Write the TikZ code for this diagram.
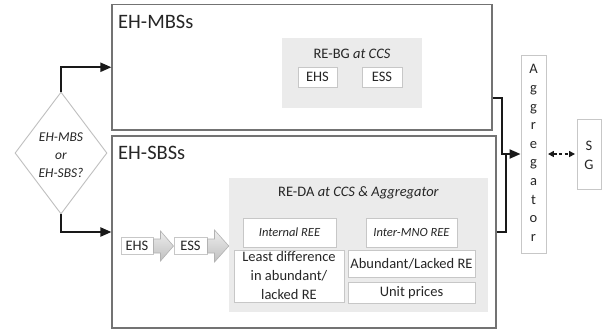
\documentclass[tikz,border=0pt]{standalone}
\usepackage{fontspec}
\setmainfont{Carlito}
\usetikzlibrary{shapes.geometric,arrows.meta,calc,shadows}
\begin{document}
\begin{tikzpicture}[x=1pt,y=-1pt,
  outerbox/.style={draw=black!55, line width=1.1pt, fill=white, inner sep=0pt,
    drop shadow={shadow xshift=1pt,shadow yshift=-1pt,fill=black!35,opacity=0.5}},
  grayblock/.style={fill=black!8, draw=none, inner sep=0pt},
  wbox/.style={draw=black!22, line width=1pt, fill=white, inner sep=0pt},
  conn/.style={line width=2pt, draw=black!90},
  tipa/.style={-{Triangle[length=11pt,width=9pt]}},
  lbl/.style={font=\fontsize{14.5}{19}\selectfont, text=black!85, align=center, inner sep=0pt},
  smalllbl/.style={font=\fontsize{12.5}{15}\selectfont\itshape, text=black!85, align=center, inner sep=0pt},
  titlelbl/.style={font=\fontsize{20.5}{23}\selectfont, text=black!85, anchor=west, inner sep=0pt},
  blockarrow/.style={top color=black!7, bottom color=black!25, draw=black!30, line width=0.6pt}
]
\useasboundingbox[fill=white] (0,0) rectangle (612,333);

% outer boxes
\node[outerbox, minimum width=380pt, minimum height=125.5pt] (mbs) at (302,67.25) {};
\node[outerbox, minimum width=384pt, minimum height=192pt] (sbs) at (304,232) {};
\node[titlelbl] (mbst) at (118,22) {EH-MBSs};
\node[titlelbl] (sbst) at (118,153) {EH-SBSs};

% decision diamond
\node[diamond, draw=black!25, line width=0.9pt, fill=white, minimum width=92pt, minimum height=122pt, inner sep=0pt] (dia) at (61,153) {};
\node[font=\fontsize{13.5}{18}\selectfont\itshape, text=black!85, align=center, inner sep=0pt] (diat) at (61,155) {EH-MBS\\or\\EH-SBS?};

\draw[conn,tipa] (dia.north) |- (mbs.west);
\draw[conn,tipa] (dia.south) |- (sbs.west);

% RE-BG block
\node[grayblock, minimum width=140pt, minimum height=70pt] (rebg) at (352,73) {};
\node[lbl] (rebgt) at (352,54) {RE-BG \textit{at CCS}};
\node[wbox, lbl, minimum width=39pt, minimum height=20pt] (ehs1) at (317.5,77) {EHS};
\node[wbox, lbl, minimum width=40pt, minimum height=20pt] (ess1) at (382,77) {ESS};

% RE-DA block
\node[grayblock, minimum width=259pt, minimum height=134pt] (reda) at (358.5,245) {};
\node[lbl] (redat) at (358.5,193) {RE-DA \textit{at CCS \& Aggregator}};
\node[wbox, smalllbl, minimum width=93pt, minimum height=29pt] (intree) at (289.5,232.5) {Internal REE};
\node[wbox, smalllbl, minimum width=91pt, minimum height=29pt] (interree) at (411.5,232.5) {Inter-MNO REE};
\node[wbox, lbl, minimum width=110pt, minimum height=52pt] (least) at (289,276) {Least difference\\in abundant/\\lacked RE};
\node[wbox, lbl, minimum width=127pt, minimum height=27pt] (abund) at (411.5,263.5) {Abundant/Lacked RE};
\node[wbox, lbl, minimum width=127pt, minimum height=21pt] (unit) at (411.5,292.5) {Unit prices};

% EHS -> ESS chain
\node[wbox, lbl, minimum width=32pt, minimum height=17pt] (ehs2) at (137,246) {EHS};
\node[wbox, lbl, minimum width=33pt, minimum height=17pt] (ess2) at (190.5,246) {ESS};
\draw[blockarrow] ($(ehs2.east)+(0,-7)$) -- ++(7,0) -- ++(0,-8) -- (ess2.west)
  -- ($(ehs2.east)+(7,15)$) -- ++(0,-8) -- ($(ehs2.east)+(0,7)$) -- cycle;
\draw[blockarrow] ($(ess2.east)+(0,-7)$) -- ++(7,0) -- ++(0,-9) -- (reda.west |- ess2.east)
  -- ($(ess2.east)+(7,16)$) -- ++(0,-9) -- ($(ess2.east)+(0,7)$) -- cycle;

% Aggregator and SG
\node[draw=black!22, line width=0.9pt, fill=white, minimum width=25pt, minimum height=198pt, inner sep=0pt] (agg) at (533.5,154) {};
\node[font=\fontsize{14.5}{18.6}\selectfont, text=black!85, align=center, inner sep=0pt] (aggt) at (533.5,153) {A\\g\\g\\r\\e\\g\\a\\t\\o\\r};
\node[draw=black!22, line width=0.9pt, fill=white, minimum width=24pt, minimum height=70pt, inner sep=0pt] (sg) at (589,154) {};
\node[font=\fontsize{14.5}{19}\selectfont, text=black!85, align=center, inner sep=0pt] (sgt) at (589,155) {S\\G};

\draw[conn,tipa] ([yshift=-30.75pt]mbs.east) -- ++(9,0) |- (agg.west);
\draw[conn] (sbs.east) -| ([xshift=-15pt]agg.west);
\draw[line width=1.6pt, black!90, dash pattern=on 3pt off 2.5pt,
  {Triangle[length=6pt,width=6pt]}-{Triangle[length=6pt,width=6pt]}] ([xshift=1.5pt]agg.east) -- ([xshift=-1.5pt]sg.west);
\end{tikzpicture}
\end{document}
